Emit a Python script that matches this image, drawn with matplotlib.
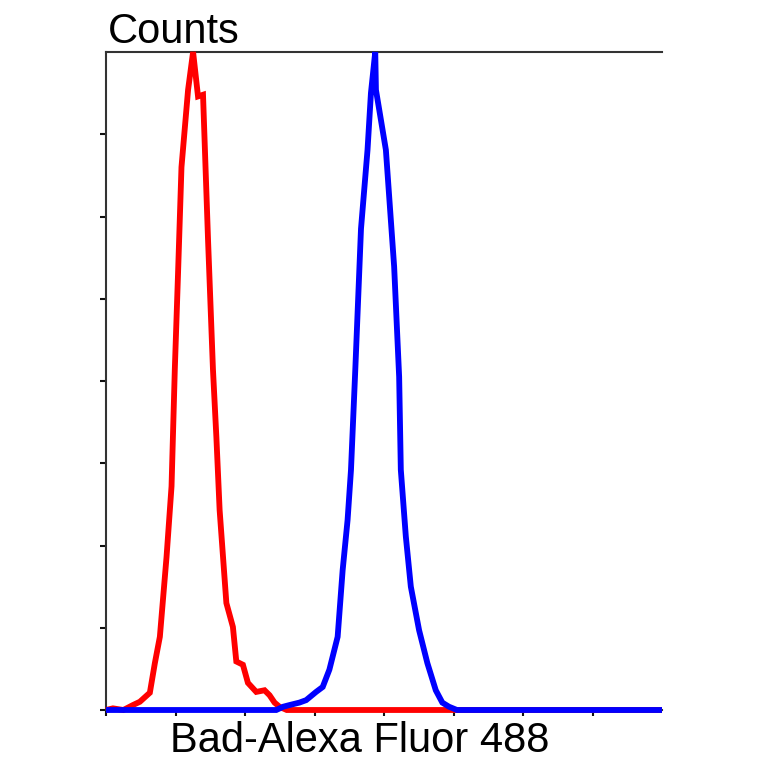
import matplotlib
matplotlib.use("Agg")
import matplotlib.pyplot as plt

# Data
red_x = [0.0, 0.10, 0.25, 0.387, 0.487, 0.631, 0.703, 0.775, 0.871, 0.943, 0.990, 1.037,
         1.086, 1.181, 1.253, 1.324, 1.396, 1.468, 1.539, 1.588, 1.635, 1.732,
         1.826, 1.875, 1.970, 2.042, 2.162, 2.281, 2.353, 2.425, 2.496, 2.6, 8.0]
red_y = [0.0, 0.02, 0.0, 0.06, 0.10, 0.21, 0.57, 0.89, 1.86, 2.72, 4.14, 5.32,
         6.60, 7.54, 8.0, 7.46, 7.48, 5.72, 4.14, 3.32, 2.43, 1.30,
         1.01, 0.59, 0.55, 0.33, 0.22, 0.24, 0.18, 0.09, 0.04, 0.0, 0.0]

blue_x = [0.0, 2.45, 2.55, 2.640, 2.783, 2.880, 3.023, 3.118, 3.214, 3.333, 3.405, 3.476,
          3.525, 3.587, 3.669, 3.763, 3.812, 3.874, 3.884, 4.027, 4.146, 4.218,
          4.242, 4.314, 4.386, 4.505, 4.624, 4.745, 4.839, 4.935, 5.05, 8.0]
blue_y = [0.0, 0.0, 0.04, 0.06, 0.09, 0.12, 0.22, 0.28, 0.49, 0.89, 1.70, 2.31,
          2.92, 4.14, 5.85, 6.81, 7.50, 8.0, 7.54, 6.81, 5.39, 4.05,
          2.92, 2.11, 1.50, 0.97, 0.57, 0.24, 0.09, 0.04, 0.0, 0.0]

x_ticks = [0, 1, 2, 3, 4, 5, 6, 7]
y_ticks = [0, 1, 2, 3, 4, 5, 6, 7]

fig = plt.figure(figsize=(7.64, 7.64), dpi=100)
ax = fig.add_axes([106/764, 1 - 710/764, (662 - 106)/764, (710 - 52)/764])

ax.plot(red_x, red_y, color="#ff0000", lw=4.2, solid_joinstyle="miter",
        solid_capstyle="butt", clip_on=False, zorder=3)
ax.plot(blue_x, blue_y, color="#0000ff", lw=4.2, solid_joinstyle="miter",
        solid_capstyle="butt", clip_on=False, zorder=4)

ax.set_xlim(0, 8)
ax.set_ylim(0, 8)
ax.set_xticks(x_ticks)
ax.set_yticks(y_ticks)
ax.set_xticklabels([])
ax.set_yticklabels([])
ax.tick_params(axis="both", direction="out", length=4.5, width=1.5, color="#111111")
for s in ["left", "top", "bottom"]:
    ax.spines[s].set_linewidth(1.5)
    ax.spines[s].set_color("#333333")
ax.spines["right"].set_visible(False)

fig.text(108/764, 1 - 43/764, "Counts", fontsize=30, family="Liberation Sans",
         ha="left", va="baseline", color="black")
fig.text(360/764, 1 - 752/764, "Bad-Alexa Fluor 488", fontsize=30, family="Liberation Sans",
         ha="center", va="baseline", color="black")

fig.savefig("out.png", dpi=100)
